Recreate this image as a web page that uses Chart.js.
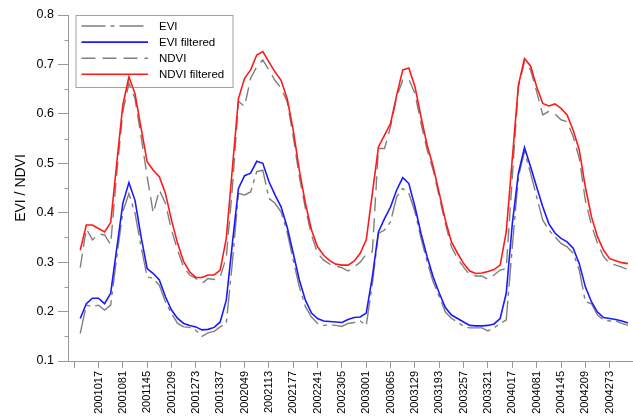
<!DOCTYPE html>
<html><head><meta charset="utf-8">
<script src="https://cdn.jsdelivr.net/npm/chart.js@4"></script>
<style>html,body{margin:0;padding:0;background:#fff}</style>
</head><body>
<canvas id="c" width="633" height="419"></canvas>
<script>
// x tick labels: one every 4 composites (first tick unlabeled)
const tickLabels = ['', '2001017','2001081','2001145','2001209','2001273','2001337',
  '2002049','2002113','2002177','2002241','2002305','2003001','2003065','2003129',
  '2003193','2003257','2003321','2004017','2004081','2004145','2004209','2004273'];

const evi = [0.156,0.213,0.210,0.213,0.203,0.213,0.310,0.402,0.439,0.399,
  0.331,0.270,0.267,0.253,0.220,0.196,0.176,0.169,0.168,0.162,
  0.150,0.157,0.160,0.169,0.176,0.300,0.439,0.436,0.442,0.483,
  0.486,0.429,0.419,0.402,0.361,0.304,0.250,0.210,0.189,0.176,
  0.172,0.173,0.172,0.170,0.176,0.178,0.181,0.172,0.257,0.358,
  0.365,0.382,0.432,0.449,0.439,0.402,0.348,0.301,0.260,0.230,
  0.199,0.186,0.179,0.170,0.167,0.167,0.167,0.161,0.167,0.176,
  0.183,0.331,0.473,0.523,0.480,0.432,0.385,0.365,0.351,0.338,
  0.331,0.318,0.284,0.220,0.216,0.193,0.183,0.181,0.181,0.176,0.172];

const eviFiltered = [0.186,0.216,0.227,0.227,0.216,0.237,0.328,0.419,0.461,0.425,
  0.351,0.287,0.277,0.264,0.230,0.203,0.186,0.176,0.172,0.169,
  0.163,0.164,0.168,0.179,0.223,0.338,0.449,0.475,0.480,0.504,
  0.500,0.463,0.436,0.412,0.371,0.318,0.264,0.223,0.197,0.186,
  0.181,0.180,0.179,0.178,0.184,0.188,0.189,0.197,0.270,0.361,
  0.388,0.412,0.446,0.471,0.459,0.412,0.358,0.311,0.270,0.237,
  0.208,0.193,0.186,0.179,0.172,0.171,0.171,0.172,0.175,0.186,
  0.237,0.378,0.480,0.532,0.493,0.452,0.412,0.378,0.359,0.348,
  0.341,0.328,0.297,0.250,0.220,0.199,0.188,0.186,0.184,0.181,0.177];

const ndvi = [0.289,0.368,0.345,0.357,0.355,0.336,0.480,0.604,0.662,0.631,
  0.554,0.473,0.399,0.446,0.419,0.365,0.324,0.290,0.274,0.267,
  0.257,0.267,0.265,0.270,0.310,0.450,0.625,0.615,0.672,0.695,
  0.709,0.689,0.668,0.652,0.625,0.554,0.473,0.409,0.355,0.318,
  0.304,0.296,0.292,0.289,0.282,0.290,0.300,0.316,0.321,0.530,
  0.530,0.574,0.635,0.668,0.670,0.641,0.581,0.527,0.486,0.432,
  0.378,0.331,0.307,0.290,0.274,0.272,0.272,0.265,0.274,0.284,
  0.287,0.473,0.655,0.705,0.689,0.645,0.598,0.605,0.600,0.588,
  0.584,0.554,0.510,0.425,0.375,0.338,0.311,0.297,0.294,0.290,0.285];

const ndviFiltered = [0.324,0.375,0.375,0.368,0.361,0.380,0.500,0.618,0.675,0.641,
  0.571,0.503,0.486,0.473,0.439,0.385,0.338,0.301,0.280,0.269,
  0.269,0.274,0.274,0.284,0.348,0.490,0.631,0.672,0.689,0.719,
  0.726,0.705,0.685,0.668,0.631,0.567,0.486,0.419,0.365,0.331,
  0.314,0.303,0.296,0.294,0.294,0.302,0.318,0.345,0.439,0.533,
  0.557,0.581,0.638,0.689,0.693,0.655,0.594,0.537,0.493,0.439,
  0.385,0.341,0.318,0.297,0.282,0.277,0.278,0.281,0.285,0.294,
  0.361,0.510,0.658,0.712,0.697,0.655,0.621,0.616,0.620,0.611,
  0.598,0.567,0.527,0.452,0.392,0.351,0.324,0.307,0.303,0.299,0.297];

const FONT = 'Arial, "Liberation Sans", sans-serif';
const toPts = arr => arr.map((v, i) => ({x: i + 1, y: v}));

const legendPlugin = {
  id: 'boxLegend',
  beforeDatasetsDraw(chart) {
    const {ctx, chartArea} = chart;
    const x = chartArea.left + 8, y = chartArea.top + 0.5, w = 157, h = 72;
    ctx.save();
    ctx.fillStyle = '#fff';
    ctx.fillRect(x, y, w, h);
    ctx.strokeStyle = '#a0a0a0';
    ctx.lineWidth = 1;
    ctx.strokeRect(x, y, w, h);
    ctx.font = '11.5px ' + FONT;
    ctx.textBaseline = 'middle';
    chart.data.datasets.forEach((ds, i) => {
      const ly = y + 10.5 + i * 16.1;
      ctx.setLineDash(ds.borderDash || []);
      ctx.strokeStyle = ds.borderColor;
      ctx.lineWidth = ds.borderWidth;
      ctx.beginPath();
      ctx.moveTo(x + 5.5, ly);
      ctx.lineTo(x + 72, ly);
      ctx.stroke();
      ctx.setLineDash([]);
      ctx.fillStyle = '#000';
      ctx.fillText(ds.label, x + 83, ly + 0.5);
    });
    ctx.restore();
  }
};

const minorTicksPlugin = {
  id: 'minorTicks',
  afterDraw(chart) {
    const s = chart.scales.y;
    const ctx = chart.ctx;
    ctx.save();
    ctx.strokeStyle = '#999999';
    ctx.lineWidth = 1;
    for (let k = 0; k < 7; k++) {
      const v = 0.15 + k * 0.1;
      const py = Math.round(s.getPixelForValue(v)) + 0.5;
      ctx.beginPath();
      ctx.moveTo(s.right - 3.5, py);
      ctx.lineTo(s.right + 0.5, py);
      ctx.stroke();
    }
    ctx.restore();
  }
};

new Chart(document.getElementById('c'), {
  type: 'line',
  data: {
    datasets: [
      {label: 'EVI', data: toPts(evi), borderColor: '#7f7f7f', borderWidth: 1.4, borderDash: [24, 5, 4, 5], order: 2},
      {label: 'EVI filtered', data: toPts(eviFiltered), borderColor: '#1a1aff', borderWidth: 1.6, order: 1},
      {label: 'NDVI', data: toPts(ndvi), borderColor: '#7f7f7f', borderWidth: 1.4, borderDash: [14, 7], order: 2},
      {label: 'NDVI filtered', data: toPts(ndviFiltered), borderColor: '#ff1a1a', borderWidth: 1.6, order: 1}
    ]
  },
  options: {
    responsive: false,
    animation: false,
    devicePixelRatio: 1,
    layout: {padding: {top: 15, right: 0, left: 0, bottom: 0}},
    elements: {point: {radius: 0}, line: {tension: 0}},
    plugins: {legend: {display: false}, tooltip: {enabled: false}},
    scales: {
      x: {
        type: 'linear',
        min: -1.01,
        max: 91.83,
        afterFit: s => { s.height = 58; },
        grid: {display: true, drawOnChartArea: false, color: '#999999', tickLength: 7},
        border: {display: true, color: '#999999'},
        ticks: {
          stepSize: 4,
          includeBounds: false,
          autoSkip: false,
          maxRotation: 90,
          minRotation: 90,
          padding: 3,
          color: '#000',
          font: {family: FONT, size: 11},
          callback: v => tickLabels[Math.round(v / 4)] ?? ''
        }
      },
      y: {
        min: 0.1,
        max: 0.8,
        afterFit: s => { s.width = 68; },
        grid: {display: true, drawOnChartArea: false, color: '#999999', tickLength: 10},
        border: {display: true, color: '#999999'},
        ticks: {
          stepSize: 0.1,
          padding: 4,
          color: '#000',
          font: {family: FONT, size: 12.5},
          callback: v => v.toFixed(1)
        },
        title: {
          display: true,
          text: 'EVI / NDVI',
          color: '#000',
          font: {family: FONT, size: 14},
          padding: {top: 13, bottom: 0}
        }
      }
    }
  },
  plugins: [legendPlugin, minorTicksPlugin]
});
</script>
</body></html>
